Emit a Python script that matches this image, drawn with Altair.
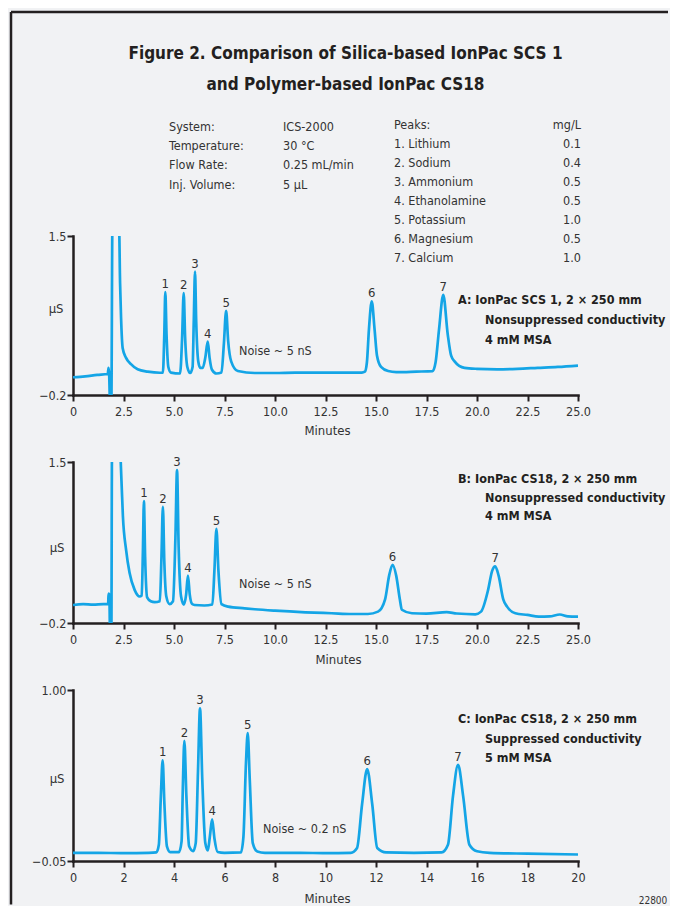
import altair as alt
import pandas as pd

FONT = "DejaVu Sans Condensed"
TXT = "#333333"
AXC = "#231f20"
BLUE = "#14a5e6"
BG = "#f1f2f4"

# ---------------- text content ----------------
title_lines = ["Figure 2. Comparison of Silica-based IonPac SCS 1",
               "and Polymer-based IonPac CS18"]
cond_labels = ["System:", "Temperature:", "Flow Rate:", "Inj. Volume:"]
cond_values = ["ICS-2000", "30 \u00b0C", "0.25 mL/min", "5 \u00b5L"]
peak_names = ["Peaks:", "1. Lithium", "2. Sodium", "3. Ammonium", "4. Ethanolamine",
              "5. Potassium", "6. Magnesium", "7. Calcium"]
peak_conc = ["mg/L", "0.1", "0.4", "0.5", "0.5", "1.0", "0.5", "1.0"]
peak_ids = ["1", "2", "3", "4", "5", "6", "7"]

ann_a = ["A: IonPac SCS 1, 2 \u00d7 250 mm", "Nonsuppressed conductivity", "4 mM MSA"]
ann_b = ["B: IonPac CS18, 2 \u00d7 250 mm", "Nonsuppressed conductivity", "4 mM MSA"]
ann_c = ["C: IonPac CS18, 2 \u00d7 250 mm", "Suppressed conductivity", "5 mM MSA"]
noise_a = "Noise ~ 5 nS"
noise_b = "Noise ~ 5 nS"
noise_c = "Noise ~ 0.2 nS"
fig_id = "22800"

# ---------------- chromatogram traces (minutes, uS) ----------------
trace_a = [(0.0, -0.01), (0.6, 0.0), (1.2, 0.015), (1.72, 0.025), (1.76, 0.09), (1.79, 0.02),
           (1.83, -0.25), (1.90, -0.25), (1.95, 1.6), (2.28, 1.6), (2.33, 1.0), (2.38, 0.62),
           (2.46, 0.30), (2.62, 0.20), (2.87, 0.13), (3.2, 0.075), (3.7, 0.05), (4.3, 0.038),
           (4.45, 0.04), (4.52, 0.45), (4.57, 0.90), (4.63, 0.45), (4.72, 0.10), (4.85, 0.04),
           (5.3, 0.03), (5.40, 0.40), (5.48, 0.89), (5.55, 0.42), (5.66, 0.10), (5.80, 0.035),
           (5.92, 0.10), (5.98, 0.60), (6.04, 1.12), (6.10, 0.58), (6.20, 0.16), (6.30, 0.09),
           (6.42, 0.09), (6.55, 0.20), (6.67, 0.37), (6.76, 0.20), (6.88, 0.07), (7.10, 0.03),
           (7.35, 0.04), (7.47, 0.35), (7.58, 0.70), (7.68, 0.38), (7.83, 0.16), (8.16, 0.056),
           (9.0, 0.035), (10.0, 0.035), (11.0, 0.04), (12.0, 0.04), (13.0, 0.04), (14.3, 0.04),
           (14.45, 0.05), (14.55, 0.15), (14.65, 0.50), (14.79, 0.80), (14.93, 0.50),
           (15.05, 0.22), (15.25, 0.10), (15.6, 0.056), (16.0, 0.045), (17.0, 0.05),
           (17.8, 0.055), (17.95, 0.15), (18.12, 0.50), (18.33, 0.87), (18.55, 0.45),
           (18.72, 0.22), (18.89, 0.16), (19.38, 0.09), (20.0, 0.08), (21.0, 0.075),
           (22.0, 0.08), (23.0, 0.09), (24.0, 0.10), (25.0, 0.115)]
peaks_a_t = [4.57, 5.48, 6.04, 6.67, 7.58, 14.79, 18.33]
peaks_a_v = [0.90, 0.89, 1.12, 0.37, 0.70, 0.80, 0.87]

trace_b = [(0.0, -0.01), (0.5, 0.0), (1.0, -0.005), (1.5, 0.0), (1.74, 0.0), (1.76, 0.11),
           (1.80, 0.10), (1.83, -0.25), (1.90, -0.25), (1.93, 1.6), (2.33, 1.6), (2.40, 1.3),
           (2.47, 0.93), (2.63, 0.57), (2.80, 0.33), (3.05, 0.15), (3.30, 0.08), (3.40, 0.09),
           (3.46, 0.55), (3.51, 1.086), (3.57, 0.50), (3.67, 0.07), (3.85, 0.03), (4.04, 0.02),
           (4.30, 0.03), (4.38, 0.50), (4.45, 1.027), (4.52, 0.45), (4.62, 0.08), (4.78, 0.0),
           (4.95, 0.03), (5.07, 0.70), (5.15, 1.415), (5.23, 0.60), (5.35, 0.08), (5.49, -0.005),
           (5.60, 0.10), (5.69, 0.30), (5.78, 0.10), (5.90, 0.0), (6.02, -0.01), (6.5, -0.015),
           (6.90, -0.005), (7.00, 0.35), (7.10, 0.794), (7.20, 0.35), (7.35, 0.0), (7.68, -0.027),
           (8.5, -0.045), (9.0, -0.055), (10.0, -0.07), (11.5, -0.087), (12.8, -0.097),
           (13.8, -0.105), (14.6, -0.105), (15.1, -0.08), (15.45, 0.05), (15.65, 0.30),
           (15.82, 0.415), (16.0, 0.30), (16.18, 0.05), (16.28, -0.06), (16.78, -0.097),
           (17.5, -0.10), (18.5, -0.085), (19.0, -0.10), (19.92, -0.108), (20.2, -0.08),
           (20.55, 0.15), (20.75, 0.35), (20.9, 0.397), (21.07, 0.30), (21.3, 0.05),
           (21.49, -0.027), (21.9, -0.097), (22.5, -0.115), (23.06, -0.133), (23.6, -0.13),
           (24.1, -0.11), (24.5, -0.13), (25.0, -0.133)]
peaks_b_t = [3.51, 4.45, 5.15, 5.69, 7.10, 15.82, 20.9]
peaks_b_v = [1.086, 1.027, 1.415, 0.30, 0.794, 0.415, 0.397]

trace_c = [(0.0, 0.0), (1.0, 0.0), (2.0, -0.002), (3.0, 0.0), (3.30, 0.003), (3.40, 0.05),
           (3.48, 0.35), (3.55, 0.568), (3.62, 0.30), (3.72, 0.04), (3.85, 0.005), (4.2, 0.005),
           (4.30, 0.07), (4.35, 0.40), (4.41, 0.688), (4.49, 0.35), (4.60, 0.04), (4.76, 0.01),
           (4.86, 0.06), (4.95, 0.50), (5.03, 0.888), (5.12, 0.45), (5.24, 0.06), (5.34, 0.015),
           (5.42, 0.10), (5.51, 0.205), (5.60, 0.09), (5.73, 0.005), (6.0, 0.0), (6.65, 0.003),
           (6.75, 0.10), (6.85, 0.55), (6.92, 0.735), (7.00, 0.45), (7.12, 0.06), (7.3, 0.008),
           (7.6, 0.0), (9.0, 0.0), (10.0, -0.002), (11.0, 0.0), (11.25, 0.03), (11.45, 0.30),
           (11.65, 0.515), (11.85, 0.30), (12.05, 0.03), (12.4, 0.003), (13.5, 0.0),
           (14.6, 0.003), (14.85, 0.05), (15.05, 0.35), (15.25, 0.541), (15.45, 0.35),
           (15.7, 0.05), (16.0, 0.01), (16.5, 0.0), (18.0, -0.005), (20.0, -0.01)]
peaks_c_t = [3.55, 4.41, 5.03, 5.51, 6.92, 11.65, 15.25]
peaks_c_v = [0.568, 0.688, 0.888, 0.205, 0.735, 0.515, 0.541]

xticks_ab = [0, 2.5, 5, 7.5, 10, 12.5, 15, 17.5, 20, 22.5, 25]
xticks_c = [0, 2, 4, 6, 8, 10, 12, 14, 16, 18, 20]

W = 505
dummy = pd.DataFrame({"k": [0]})


def text_layer(lines, x, y, size=12.5, bold=False, align="left", lh=19.2, color=TXT):
    return alt.Chart(dummy).mark_text(
        text=lines, font=FONT, fontSize=size, fontWeight="bold" if bold else "normal",
        color=color, align=align, baseline="alphabetic", lineHeight=lh,
    ).encode(x=alt.value(x), y=alt.value(y))


def panel(trace, pk_t, pk_v, xmax, xticks, xlabel_expr, ydom, yfmt, h,
          xt_x, xt_y, yt_x, yt_y, extra):
    df = pd.DataFrame(trace, columns=["t", "v"])
    xs = alt.Scale(domain=[0, xmax], nice=False, zero=False)
    ys = alt.Scale(domain=ydom, nice=False, zero=False)
    x_axis = alt.Axis(values=xticks, labelExpr=xlabel_expr, title="Minutes",
                      titleX=xt_x, titleY=xt_y, titleBaseline="alphabetic")
    y_axis = alt.Axis(values=ydom, format=yfmt, title="\u00b5S", titleAngle=0,
                      titleAlign="right", titleBaseline="alphabetic",
                      titleX=yt_x, titleY=yt_y)
    line = alt.Chart(df).mark_line(
        color=BLUE, strokeWidth=2.7, interpolate="monotone", clip=True
    ).encode(x=alt.X("t:Q", scale=xs, axis=x_axis), y=alt.Y("v:Q", scale=ys, axis=y_axis))
    labels = alt.Chart(pd.DataFrame({"t": pk_t, "v": pk_v, "n": peak_ids})).mark_text(
        dy=-4, baseline="alphabetic", fontSize=13, font=FONT, color=TXT
    ).encode(x=alt.X("t:Q", scale=xs, axis=x_axis), y=alt.Y("v:Q", scale=ys, axis=y_axis),
             text="n:N")
    return alt.layer(*extra, line, labels).properties(width=W, height=h)


# figure frame: left and top edges (the right/bottom edges lie outside the picture)
frame_left = alt.Chart(dummy).mark_rule(color=AXC, strokeWidth=2.5).encode(
    x=alt.value(-62), y=alt.value(-224), y2=alt.value(668.5))
frame_top = alt.Chart(dummy).mark_rule(color=AXC, strokeWidth=2.5).encode(
    x=alt.value(-62), x2=alt.value(595), y=alt.value(-224))

extra_a = [
    frame_left, frame_top,
    text_layer(title_lines, 272.5, -177, size=17, bold=True, align="center", lh=31, color=AXC),
    text_layer(cond_labels, 96, -105),
    text_layer(cond_values, 210, -105),
    text_layer(peak_names, 321, -107, lh=19.0),
    text_layer(peak_conc, 508, -107, lh=19.0, align="right"),
    text_layer([ann_a[0]], 385, 68, bold=True, color=AXC),
    text_layer(ann_a[1:], 412, 88, bold=True, lh=19.5, color=AXC),
    text_layer(noise_a, 166, 119),
]
extra_b = [
    text_layer([ann_b[0]], 385, 20.75, bold=True, color=AXC),
    text_layer(ann_b[1:], 412, 39.75, bold=True, lh=18.5, color=AXC),
    text_layer(noise_b, 166, 125.75),
]
extra_c = [
    text_layer([ann_c[0]], 385, 32.75, bold=True, color=AXC),
    text_layer(ann_c[1:], 412, 52.75, bold=True, lh=19, color=AXC),
    text_layer(noise_c, 190, 142.75),
    text_layer(fig_id, 580, 213.5, size=10, align="center"),
]

lab_ab = "datum.value == 0 ? '0' : format(datum.value, '.1f')"
lab_c = "format(datum.value, '.0f')"

pa = panel(trace_a, peaks_a_t, peaks_a_v, 25, xticks_ab, lab_ab, [-0.2, 1.5], ".1f", 159,
           254, 39, -10, 76, extra_a)
pb = panel(trace_b, peaks_b_t, peaks_b_v, 25, xticks_ab, lab_ab, [-0.2, 1.5], ".1f", 161,
           265, 40, -9, 89.5, extra_b)
pc = panel(trace_c, peaks_c_t, peaks_c_v, 20, xticks_c, lab_c, [-0.05, 1.0], ".2f", 171,
           254, 41, -9, 92, extra_c)

chart = alt.vconcat(pa, pb, pc, spacing=67, bounds="flush").properties(
    padding={"left": 1, "top": 2, "right": 0, "bottom": 0},
    background=BG,
).configure_view(stroke=None).configure_axis(
    domainColor=AXC, domainWidth=2.5, domainCap="square",
    tickColor=AXC, tickWidth=2, tickSize=6,
    labelColor=TXT, labelFont=FONT, labelFontSize=12.5,
    titleFont=FONT, titleFontSize=13, titleColor=TXT, titleFontWeight="normal",
    grid=False, labelFlush=False, labelOverlap=False,
).configure_axisX(labelPadding=4).configure_axisY(labelPadding=1)

chart.save("out.html", embed_options={"renderer": "svg", "actions": False})
